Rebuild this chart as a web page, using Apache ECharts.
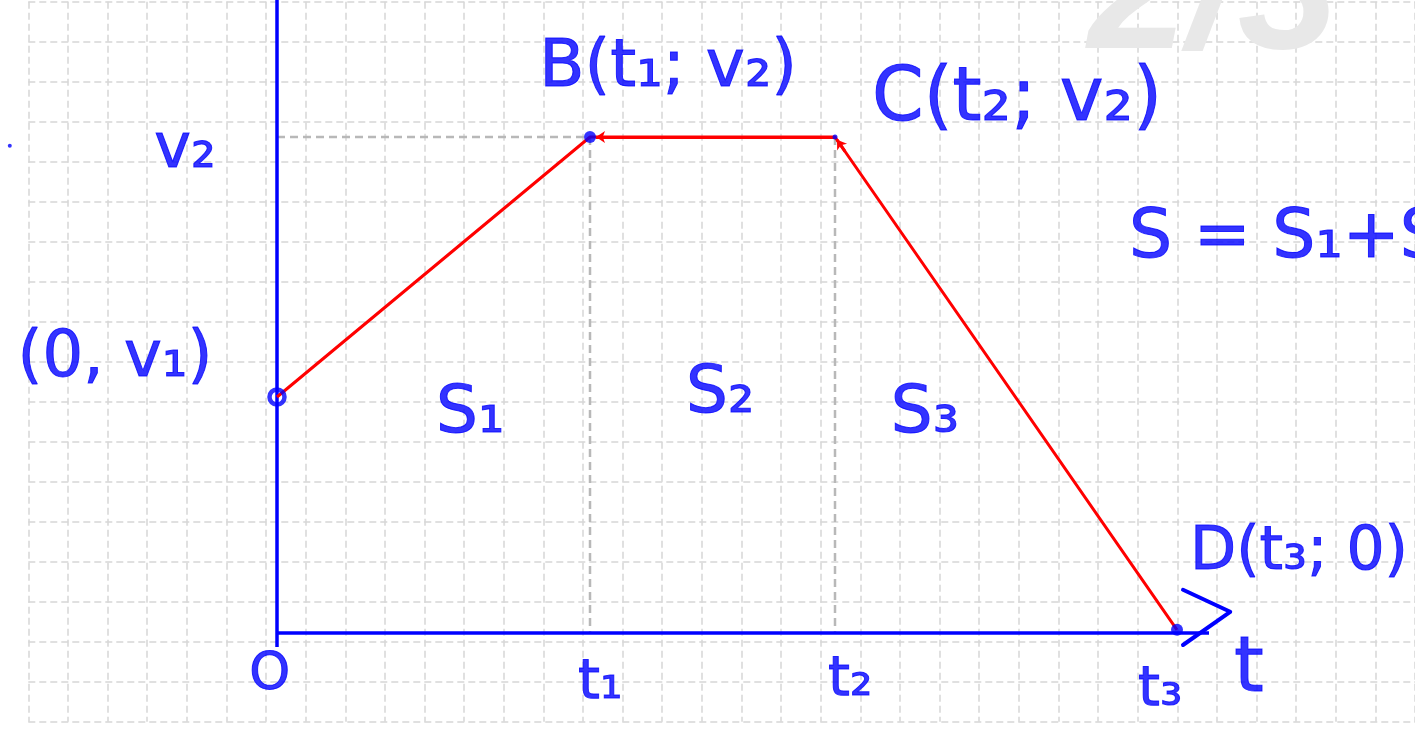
<!DOCTYPE html>
<html>
<head>
<meta charset="utf-8">
<script src="https://cdn.jsdelivr.net/npm/echarts@6/dist/echarts.min.js"></script>
<style>html,body{margin:0;padding:0;background:#fff}#c{width:1415px;height:738px}</style>
</head>
<body>
<div id="c"></div>
<script>
// ---- data (grid-cell units) ----
const pointNames = ['A', 'B', 'C', 'D'];
const tVals = [0, 7.825, 13.95, 22.5];     // 0, t1, t2, t3
const vVals = [5.9, 12.4, 12.4, 0.08];     // v1, v2, v2, 0
const axisT = [0, 23.3];
const axisV = [-0.35, 15.9];
const arrowT = [22.65, 23.83, 22.65];
const arrowV = [1.08, 0.53, -0.3];
const dotSizes = [15, 12, 5, 12];

const labelTexts = ['v₂', '(0, v₁)', 'B(t₁; v₂)', 'C(t₂; v₂)', 'S = S₁+S', 'S₁', 'S₂', 'S₃', 'D(t₃; 0)', 'O', 't₁', 't₂', 't₃', 't'];
const labelT = [-2.3, -4.05, 9.78, 18.5, 21.3, 4.83, 11.08, 16.2, 25.55, -0.18, 8.08, 14.33, 22.08, 24.3];
const labelV = [12.05, 6.83, 14.1, 13.3, 9.85, 5.45, 5.95, 5.45, 2.0, -1.05, -1.25, -1.18, -1.43, -0.95];
const labelSizes = [62, 64, 66, 74, 68, 66, 66, 66, 60, 52, 56, 56, 56, 76];
const labelAlign = ['center','center','center','center','left','center','center','center','center','center','center','center','center','center'];

const BLUE = '#0000ff';
const RED = '#ff0000';

const chart = echarts.init(document.getElementById('c'), null, {renderer: 'canvas'});
const W = 1415, H = 738;
const ox = 277, oy = 633, cell = 40;

const hidden = {axisLine:{show:false}, axisTick:{show:false}, axisLabel:{show:false}, splitLine:{show:false}};

const curve = tVals.map((t, i) => [t, vVals[i]]);

const option = {
  animation: false,
  backgroundColor: '#ffffff',
  grid: [
    {left: 28.3, top: 1.7, width: 1400, height: 720},
    {left: 0, top: 0, width: W, height: H}
  ],
  xAxis: [
    {gridIndex: 0, type: 'value', min: 0, max: 35, interval: 1, axisLine:{show:false}, axisTick:{show:false}, axisLabel:{show:false},
      splitLine:{show:true, showMinLine:true, lineStyle:{color:'#d6d6d6', width:1.5, type:[7,4]}}},
    Object.assign({gridIndex: 1, type: 'value', min: -ox / cell, max: (W - ox) / cell}, hidden)
  ],
  yAxis: [
    {gridIndex: 0, type: 'value', min: 0, max: 18, interval: 1, axisLine:{show:false}, axisTick:{show:false}, axisLabel:{show:false},
      splitLine:{show:true, showMinLine:true, lineStyle:{color:'#d6d6d6', width:1.5, type:[7,4]}}},
    Object.assign({gridIndex: 1, type: 'value', min: -(H - oy) / cell, max: oy / cell}, hidden)
  ],
  graphic: [{
    type: 'text', left: 1088, top: -92, z: 1,
    style: {text: '2/3', fill: '#e8e8e8', font: 'italic bold 180px "Liberation Sans", sans-serif'}
  }],
  series: [
    // guide lines
    {type:'line', xAxisIndex:1, yAxisIndex:1, symbol:'none', z:3,
      lineStyle:{color:'#b8b8b8', width:2.5, type:[8,5]},
      data:[[0, vVals[1]], [tVals[1], vVals[1]]]},
    {type:'line', xAxisIndex:1, yAxisIndex:1, symbol:'none', z:3,
      lineStyle:{color:'#b8b8b8', width:2.5, type:[8,5]},
      data:[[tVals[1], vVals[1]], [tVals[1], 0]]},
    {type:'line', xAxisIndex:1, yAxisIndex:1, symbol:'none', z:3,
      lineStyle:{color:'#b8b8b8', width:2.5, type:[8,5]},
      data:[[tVals[2], vVals[2]], [tVals[2], 0]]},
    // axes
    {type:'line', xAxisIndex:1, yAxisIndex:1, symbol:'none', z:5,
      lineStyle:{color:BLUE, width:3.5}, data:[[0, axisV[0]], [0, axisV[1]]]},
    {type:'line', xAxisIndex:1, yAxisIndex:1, symbol:'none', z:5,
      lineStyle:{color:BLUE, width:3.5}, data:[[axisT[0], 0], [axisT[1], 0]]},
    {type:'line', xAxisIndex:1, yAxisIndex:1, symbol:'none', z:5,
      lineStyle:{color:BLUE, width:4, cap:'round', join:'round'},
      data: arrowT.map((t, i) => [t, arrowV[i]])},
    // v(t) curve
    {type:'line', xAxisIndex:1, yAxisIndex:1, symbol:'none', z:6, name:'v(t)',
      lineStyle:{color:RED, width:3}, data: curve,
      markLine:{silent:true, symbol:['none','arrow'], symbolSize:9, label:{show:false},
        lineStyle:{color:RED, width:3, type:'solid'},
        data:[
          [{coord: curve[2]}, {coord:[tVals[1] + 0.15, vVals[1]]}],
          [{coord: [tVals[2] + 0.25, vVals[2] - 0.36]}, {coord:[tVals[2] + 0.05, vVals[2] - 0.07]}]
        ]}},
    // points
    {type:'scatter', xAxisIndex:1, yAxisIndex:1, z:8,
      data: curve.map((p, i) => ({name: pointNames[i], value: p, symbolSize: dotSizes[i],
        itemStyle: i === 0 ? {color:'rgba(0,0,0,0)', borderColor:BLUE, borderWidth:4.5} : {color:BLUE}}))},
    {type:'scatter', xAxisIndex:1, yAxisIndex:1, z:8, symbolSize:4, itemStyle:{color:BLUE},
      data:[[-6.68, 12.18]]},
    // labels
    {type:'scatter', xAxisIndex:1, yAxisIndex:1, z:9, symbolSize:1, itemStyle:{color:'rgba(0,0,0,0)'}, clip:false,
      data: labelTexts.map((txt, i) => ({value:[labelT[i], labelV[i]],
        label:{show:true, position:'inside', formatter: txt, color: BLUE, fontSize: labelSizes[i],
          textBorderColor: BLUE, textBorderWidth: 1,
          fontFamily:'"DejaVu Sans", sans-serif', align: labelAlign[i], verticalAlign:'middle'}}))}
  ]
};
chart.setOption(option);
</script>
</body>
</html>
